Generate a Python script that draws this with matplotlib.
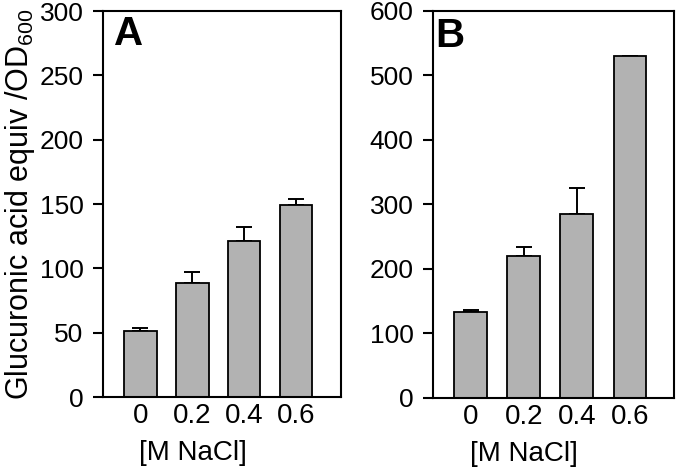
import matplotlib.pyplot as plt
import numpy as np

plt.rcParams['font.family'] = ['Liberation Sans', 'DejaVu Sans']
plt.rcParams['mathtext.default'] = 'regular'

nacl = ['0', '0.2', '0.4', '0.6']

# panel A
a_vals = [51, 89, 121, 149]
a_err = [3, 8, 11, 5]

# panel B
b_vals = [134, 220, 285, 530]
b_err = [3, 14, 40, 0]

fig = plt.figure(figsize=(6.8, 4.71), dpi=100)
axA = fig.add_axes([0.1515, 0.157, 0.35, 0.8195])
axB = fig.add_axes([0.6368, 0.155, 0.3544, 0.8217])

def draw(ax, vals, err, ymax, step, letter, lx, ly, xlim):
    x = np.arange(len(vals))
    ax.bar(x, vals, width=0.62, color='#b2b2b2', edgecolor='black', linewidth=1.3, zorder=2)
    e = [v if v > 0 else np.nan for v in err]
    ax.errorbar(x, vals, yerr=[np.zeros(len(vals)), e], fmt='none', ecolor='black',
                elinewidth=1.4, capsize=5.8, capthick=1.4, zorder=1)
    ax.set_xlim(*xlim)
    ax.set_ylim(0, ymax)
    ax.set_yticks(np.arange(0, ymax + 1, step))
    ax.set_xticks(x)
    ax.set_xticklabels(nacl)
    ax.tick_params(axis='x', length=0, labelsize=20, pad=4)
    ax.tick_params(axis='y', length=7, width=1.5, direction='out', labelsize=19, pad=7)
    for s in ax.spines.values():
        s.set_linewidth(1.5)
    ax.set_xlabel('[M NaCl]', fontsize=20)
    ax.xaxis.set_label_coords(0.378, -0.11)
    ax.text(lx, ly, letter, transform=ax.transAxes, fontsize=29, fontweight='bold',
            va='top', ha='left')

draw(axA, a_vals, a_err, 300, 50, 'A', 0.045, 0.99, (-0.72, 3.86))
draw(axB, b_vals, b_err, 600, 100, 'B', 0.01, 0.985, (-0.71, 3.83))

axA.set_ylabel('Glucuronic acid equiv /OD$_{600}$', fontsize=22, labelpad=2)

fig.savefig('out.png', dpi=100)
